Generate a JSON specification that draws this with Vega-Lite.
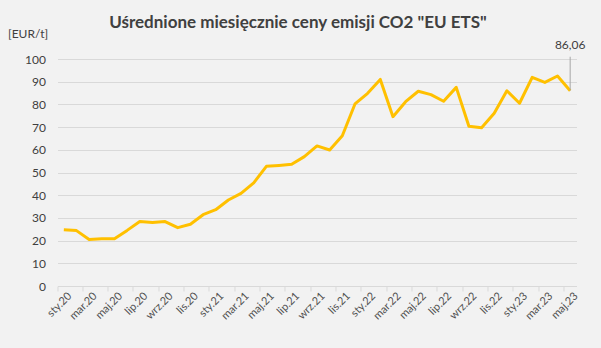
{
  "$schema": "https://vega.github.io/schema/vega-lite/v6.json",
  "width": 519,
  "height": 227,
  "autosize": "none",
  "padding": {"left": 57.5, "top": 59, "right": 24.5, "bottom": 62},
  "background": "#f2f2f2",
  "title": {
    "text": "Uśrednione miesięcznie ceny emisji CO2 \"EU ETS\"",
    "font": "Lato",
    "fontSize": 17,
    "fontWeight": "bold",
    "color": "#404040",
    "anchor": "middle",
    "baseline": "alphabetic",
    "dx": -19,
    "dy": 22,
    "offset": 4
  },
  "data": {
    "values": [
      {"m": "sty.20", "v": 24.8}, {"m": "lut.20", "v": 24.4}, {"m": "mar.20", "v": 20.5}, {"m": "kwi.20", "v": 20.8},
      {"m": "maj.20", "v": 20.8}, {"m": "cze.20", "v": 24.5}, {"m": "lip.20", "v": 28.4}, {"m": "sie.20", "v": 28.0},
      {"m": "wrz.20", "v": 28.4}, {"m": "paź.20", "v": 25.7}, {"m": "lis.20", "v": 27.2}, {"m": "gru.20", "v": 31.4},
      {"m": "sty.21", "v": 33.6}, {"m": "lut.21", "v": 37.9}, {"m": "mar.21", "v": 40.8}, {"m": "kwi.21", "v": 45.4},
      {"m": "maj.21", "v": 52.7}, {"m": "cze.21", "v": 53.1}, {"m": "lip.21", "v": 53.6}, {"m": "sie.21", "v": 57.0},
      {"m": "wrz.21", "v": 61.7}, {"m": "paź.21", "v": 59.9}, {"m": "lis.21", "v": 66.2}, {"m": "gru.21", "v": 80.2},
      {"m": "sty.22", "v": 84.9}, {"m": "lut.22", "v": 91.0}, {"m": "mar.22", "v": 74.6}, {"m": "kwi.22", "v": 81.2},
      {"m": "maj.22", "v": 85.8}, {"m": "cze.22", "v": 84.3}, {"m": "lip.22", "v": 81.4}, {"m": "sie.22", "v": 87.5},
      {"m": "wrz.22", "v": 70.4}, {"m": "paź.22", "v": 69.7}, {"m": "lis.22", "v": 76.1}, {"m": "gru.22", "v": 86.0},
      {"m": "sty.23", "v": 80.5}, {"m": "lut.23", "v": 91.9}, {"m": "mar.23", "v": 89.7}, {"m": "kwi.23", "v": 92.5},
      {"m": "maj.23", "v": 86.06, "note": "86,06"}
    ]
  },
  "config": {
    "font": "Lato",
    "view": {"stroke": null},
    "axis": {"labelFont": "Lato", "titleFont": "Lato"},
    "axisY": {"tickCount": 10, "labelOverlap": false}
  },
  "layer": [
    {
      "mark": {"type": "line", "color": "#FFC000", "strokeWidth": 3, "strokeJoin": "round"},
      "encoding": {
        "x": {
          "field": "m",
          "type": "nominal",
          "sort": null,
          "scale": {"paddingInner": 0, "paddingOuter": 0},
          "axis": {
            "title": null,
            "bandPosition": 0,
            "values": ["sty.20","mar.20","maj.20","lip.20","wrz.20","lis.20","sty.21","mar.21","maj.21","lip.21","wrz.21","lis.21","sty.22","mar.22","maj.22","lip.22","wrz.22","lis.22","sty.23","mar.23","maj.23"],
            "labelAngle": -45,
            "labelAlign": "right",
            "labelBaseline": "middle",
            "labelFontSize": 11,
            "labelColor": "#505050",
            "labelPadding": 3,
            "labelOffset": 6.33,
            "labelOverlap": false,
            "ticks": true,
            "tickSize": 5,
            "tickColor": "#d9d9d9",
            "domain": true,
            "domainColor": "#d9d9d9",
            "grid": false
          }
        },
        "y": {
          "field": "v",
          "type": "quantitative",
          "scale": {"domain": [0, 100], "nice": false, "zero": true},
          "axis": {
            "title": "[EUR/t]",
            "titleAngle": 0,
            "titleAlign": "left",
            "titleBaseline": "middle",
            "titleX": -50,
            "titleY": -26,
            "titleFontSize": 12,
            "titleFontWeight": "normal",
            "titleColor": "#404040",
            "tickCount": 10,
            "labelFontSize": 12,
            "labelColor": "#404040",
            "labelPadding": 12,
            "labelOverlap": false,
            "ticks": false,
            "domain": false,
            "grid": true,
            "gridColor": "#d9d9d9"
          }
        }
      }
    },
    {
      "transform": [{"filter": "datum.note"}],
      "mark": {"type": "rule", "color": "#a6a6a6", "strokeWidth": 1},
      "encoding": {
        "x": {"field": "m", "type": "nominal", "sort": null},
        "y": {"field": "v", "type": "quantitative"},
        "y2": {"datum": 101}
      }
    },
    {
      "transform": [{"filter": "datum.note"}],
      "mark": {"type": "text", "fontSize": 12, "color": "#404040", "baseline": "middle", "dy": -46},
      "encoding": {
        "x": {"field": "m", "type": "nominal", "sort": null},
        "y": {"field": "v", "type": "quantitative"},
        "text": {"field": "note"}
      }
    }
  ]
}
